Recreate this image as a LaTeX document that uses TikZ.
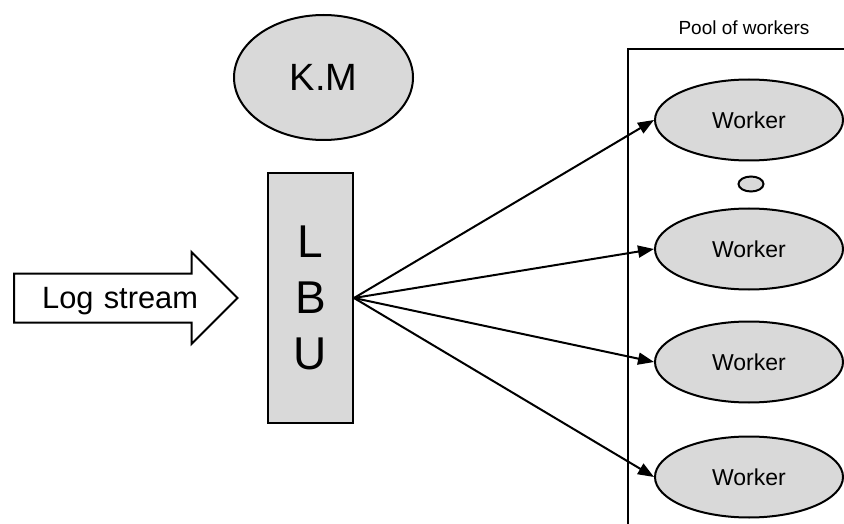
\documentclass[tikz,border=0pt]{standalone}
\usepackage{fontspec}
\setmainfont{Liberation Sans}
\usetikzlibrary{arrows.meta,shapes.geometric,shapes.arrows}

\tikzset{
    unit/.style={draw,line width=2pt,fill=black!15,inner sep=0pt},
    worker/.style={unit,ellipse,minimum width=188pt,minimum height=81pt,
        font=\fontsize{23}{27}\selectfont},
    send/.style={line width=2pt,-{Triangle[length=16pt,width=12pt]}}
}

\begin{document}
\begin{tikzpicture}[x=1pt,y=-1pt]
        \useasboundingbox (0,0) rectangle (844,524);
        % pool of workers
        \begin{scope}
            \clip (0,0) rectangle (844,524);
            \draw[line width=2pt] (900,49) -- (628,49) -- (628,600);
        \end{scope}
        \node[font=\fontsize{19}{23}\selectfont] (pool) at (744,28) {Pool of workers};
        \node[unit,ellipse,minimum width=179pt,minimum height=125pt,
            font=\fontsize{38}{44}\selectfont] (km) at (323.5,77.5) {K.M};
        \node[unit,minimum width=85pt,minimum height=250pt,align=center,
            font=\fontsize{46}{56}\selectfont] (lbu) at (310.5,298) {L\\B\\U};
        \node[draw,line width=2pt,single arrow,single arrow head extend=21.5pt,
            inner xsep=14pt,inner ysep=9pt,text width=169pt,align=right,
            text height=24.5pt,text depth=4.5pt,font=\fontsize{30.8}{36}\selectfont,
            anchor=tail] (log) at (13,298) {Log stream};
        \node[unit,ellipse,minimum width=25pt,minimum height=15pt] (more) at (751,184) {};
        \foreach \y [count=\i] in {120,249,362,477} {
            \node[worker] (w\i) at (749,\y) {Worker};
            \draw[send] (lbu.east) -- (w\i.west);
        }
    \end{tikzpicture}
\end{document}
